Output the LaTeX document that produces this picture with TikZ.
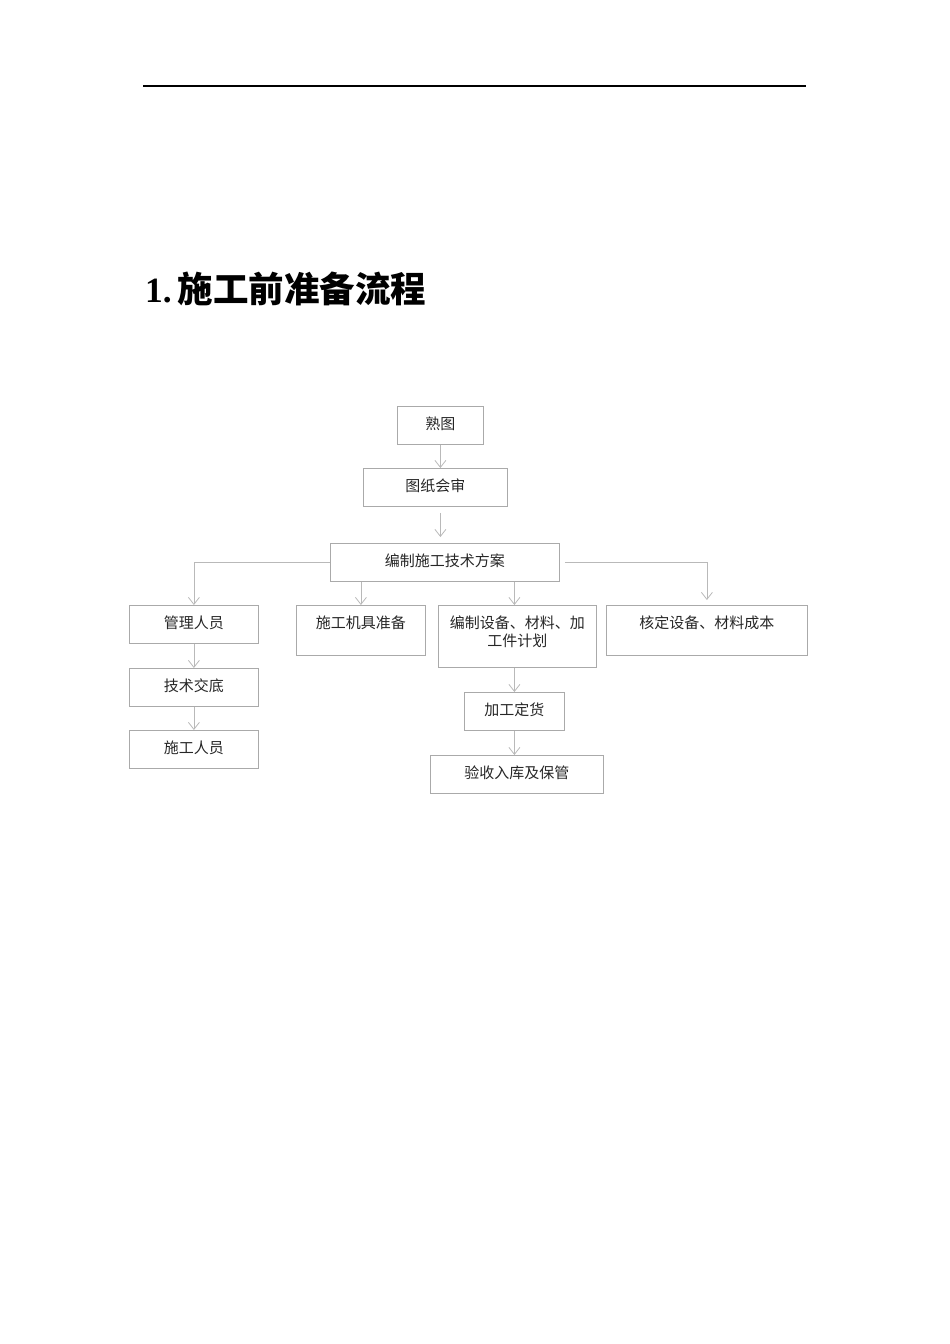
\documentclass[tikz,border=0pt]{standalone}
\usepackage{fontspec}
\setmainfont{Liberation Serif}
\newfontfamily\cjk{Noto Sans CJK SC}
\usetikzlibrary{arrows.meta}
\definecolor{boxgray}{RGB}{170,170,170}
\definecolor{arrowgray}{RGB}{185,185,185}

\begin{document}
\begin{tikzpicture}[x=1pt,y=-1pt,>={Straight Barb[length=7pt,width=11pt]},
  flow box/.style={rectangle,draw=boxgray,line width=0.8pt,anchor=north west,inner xsep=0pt,inner ysep=0pt,
    text height=22.7pt,text depth=15.3pt,text=black!85,font=\cjk\fontsize{15}{18}\selectfont},
  tall box/.style={flow box,text depth=27.3pt},
  flow arrow/.style={->,draw=arrowgray,line width=0.8pt}]
  \useasboundingbox (0,0) rectangle (950,1344);

  % header rule and title
  \draw[line width=1.2pt] (143,86) -- (806,86);
  \node[anchor=base west,inner sep=0pt,font=\fontsize{35.5}{40}\selectfont\bfseries] (title) at (145,302) {1.\,{\cjk 施工前准备流程}};

  % boxes
  \node[flow box,minimum width=86pt] (shutu) at (397,406) {熟图};
  \node[flow box,minimum width=144pt] (tuzhi) at (363,468) {图纸会审};
  \node[flow box,minimum width=229pt] (fangan) at (330,543) {编制施工技术方案};
  \node[flow box,minimum width=129pt] (guanli) at (129,605) {管理人员};
  \node[tall box,minimum width=129pt] (jiju) at (296,605) {施工机具准备};
  \node[flow box,minimum width=158pt,text width=150pt,align=center,text depth=39.3pt] (jihua) at (438,605) {编制设备、材料、加\\工件计划};
  \node[tall box,minimum width=201pt] (chengben) at (606,605) {核定设备、材料成本};
  \node[flow box,minimum width=129pt] (jiaodi) at (129,668) {技术交底};
  \node[flow box,minimum width=129pt] (renyuan) at (129,730) {施工人员};
  \node[flow box,minimum width=100pt] (dinghuo) at (464,692) {加工定货};
  \node[flow box,minimum width=173pt] (yanshou) at (430,755) {验收入库及保管};

  % connectors
  \draw[flow arrow] (shutu.south) -- (shutu.south |- tuzhi.north);
  \draw[flow arrow,shorten <=6pt,shorten >=6pt] (shutu.south |- tuzhi.south) -- (shutu.south |- fangan.north);
  \draw[flow arrow] (fangan.west) -| (guanli.north);
  \draw[flow arrow] (jiju.north |- fangan.south) -- (jiju.north);
  \draw[flow arrow] (dinghuo.north |- fangan.south) -- (dinghuo.north |- jihua.north);
  \draw[flow arrow,shorten <=5pt,shorten >=5pt] (fangan.east) -| (chengben.north);
  \draw[flow arrow] (guanli) -- (jiaodi);
  \draw[flow arrow] (jiaodi) -- (renyuan);
  \draw[flow arrow] (dinghuo.north |- jihua.south) -- (dinghuo.north);
  \draw[flow arrow] (dinghuo.south) -- (dinghuo.south |- yanshou.north);
\end{tikzpicture}
\end{document}
